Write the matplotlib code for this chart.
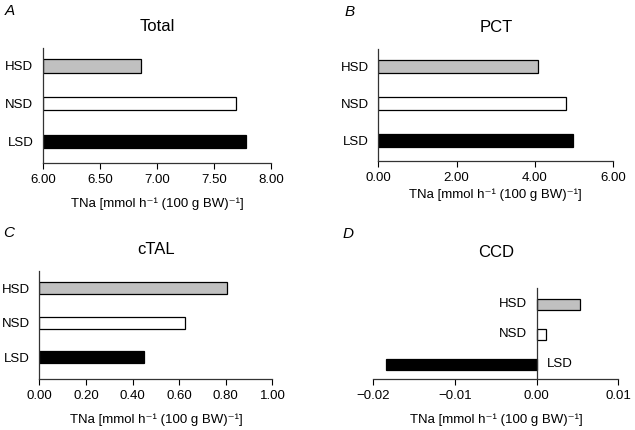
import matplotlib
matplotlib.use("Agg")
import matplotlib.pyplot as plt
from matplotlib.ticker import FormatStrFormatter, FuncFormatter

plt.rcParams['font.family'] = ['Liberation Sans', 'DejaVu Sans']
plt.rcParams['axes.unicode_minus'] = True

groups = ['LSD', 'NSD', 'HSD']
colors = ['black', 'white', '#c0c0c0']

total = [7.78, 7.69, 6.86]
pct = [4.97, 4.79, 4.09]
ctal = [0.449, 0.625, 0.805]
ccd = [-0.0185, 0.0011, 0.0053]

xlab = 'TNa [mmol h\u207b\u00b9 (100 g BW)\u207b\u00b9]'
fs = 9.5

fig = plt.figure(figsize=(6.35, 4.3), dpi=100)

# axes boxes in figure fractions
axA = fig.add_axes([0.0677, 0.621, 0.359, 0.267])
axB = fig.add_axes([0.596, 0.626, 0.3695, 0.260])
axC = fig.add_axes([0.062, 0.119, 0.367, 0.251])
axD = fig.add_axes([0.588, 0.119, 0.386, 0.212])


def style(ax, vals, xlim, ticks, title, base=0.0):
    ax.barh(range(3), [v - base for v in vals], left=base, height=0.35,
            color=colors, edgecolor='black', linewidth=0.9)
    ax.set_xlim(xlim)
    ax.set_ylim(-0.56, 2.47)
    ax.set_xticks(ticks)
    ax.xaxis.set_major_formatter(FormatStrFormatter('%.2f'))
    ax.set_yticks(range(3))
    ax.set_yticklabels(groups)
    ax.tick_params(axis='y', length=0, pad=7, labelsize=fs)
    ax.tick_params(axis='x', length=4, width=0.8, direction='out', labelsize=fs, pad=4)
    for s in ['top', 'right']:
        ax.spines[s].set_visible(False)
    for s in ['left', 'bottom']:
        ax.spines[s].set_linewidth(0.9)
        ax.spines[s].set_color('#333333')
    ax.set_xlabel(xlab, fontsize=fs, labelpad=3)
    ax.set_title(title, fontsize=12, pad=12)


style(axA, total, (6.0, 8.0), [6.0, 6.5, 7.0, 7.5, 8.0], 'Total', base=6.0)
axA.xaxis.labelpad = 8
style(axB, pct, (0, 6), [0, 2, 4, 6], 'PCT')
style(axC, ctal, (0, 1), [0, 0.2, 0.4, 0.6, 0.8, 1.0], 'cTAL')
axC.set_ylim(-0.62, 2.5)
axC.xaxis.labelpad = 8

# panel D: axis through zero
axD.barh(range(3), ccd, height=0.37, color=colors, edgecolor='black', linewidth=0.9)
axD.set_xlim(-0.02, 0.01)
axD.set_ylim(-0.48, 2.55)
axD.set_xticks([-0.02, -0.01, 0.0, 0.01])
axD.xaxis.set_major_formatter(FuncFormatter(lambda v, p: ('%.2f' % v).replace('-', '\u2212')))
axD.set_yticks([])
axD.spines['left'].set_position(('data', 0))
for s in ['top', 'right']:
    axD.spines[s].set_visible(False)
for s in ['left', 'bottom']:
    axD.spines[s].set_linewidth(0.9)
    axD.spines[s].set_color('#333333')
axD.tick_params(axis='x', length=4, width=0.8, direction='out', labelsize=fs, pad=4)
axD.set_xlabel(xlab, fontsize=fs, labelpad=8)
axD.set_title('CCD', fontsize=12, pad=22)
for i, g in enumerate(groups):
    if ccd[i] < 0:
        axD.text(0.0012, i, g, ha='left', va='center', fontsize=fs)
    else:
        axD.text(-0.0012, i, g, ha='right', va='center', fontsize=fs)

# panel letters
for x, y, t in [(0.008, 0.975, 'A'), (0.543, 0.972, 'B'), (0.005, 0.458, 'C'), (0.540, 0.456, 'D')]:
    fig.text(x, y, t, fontsize=11, style='italic', ha='left', va='center')

fig.savefig('out.png', dpi=100)
